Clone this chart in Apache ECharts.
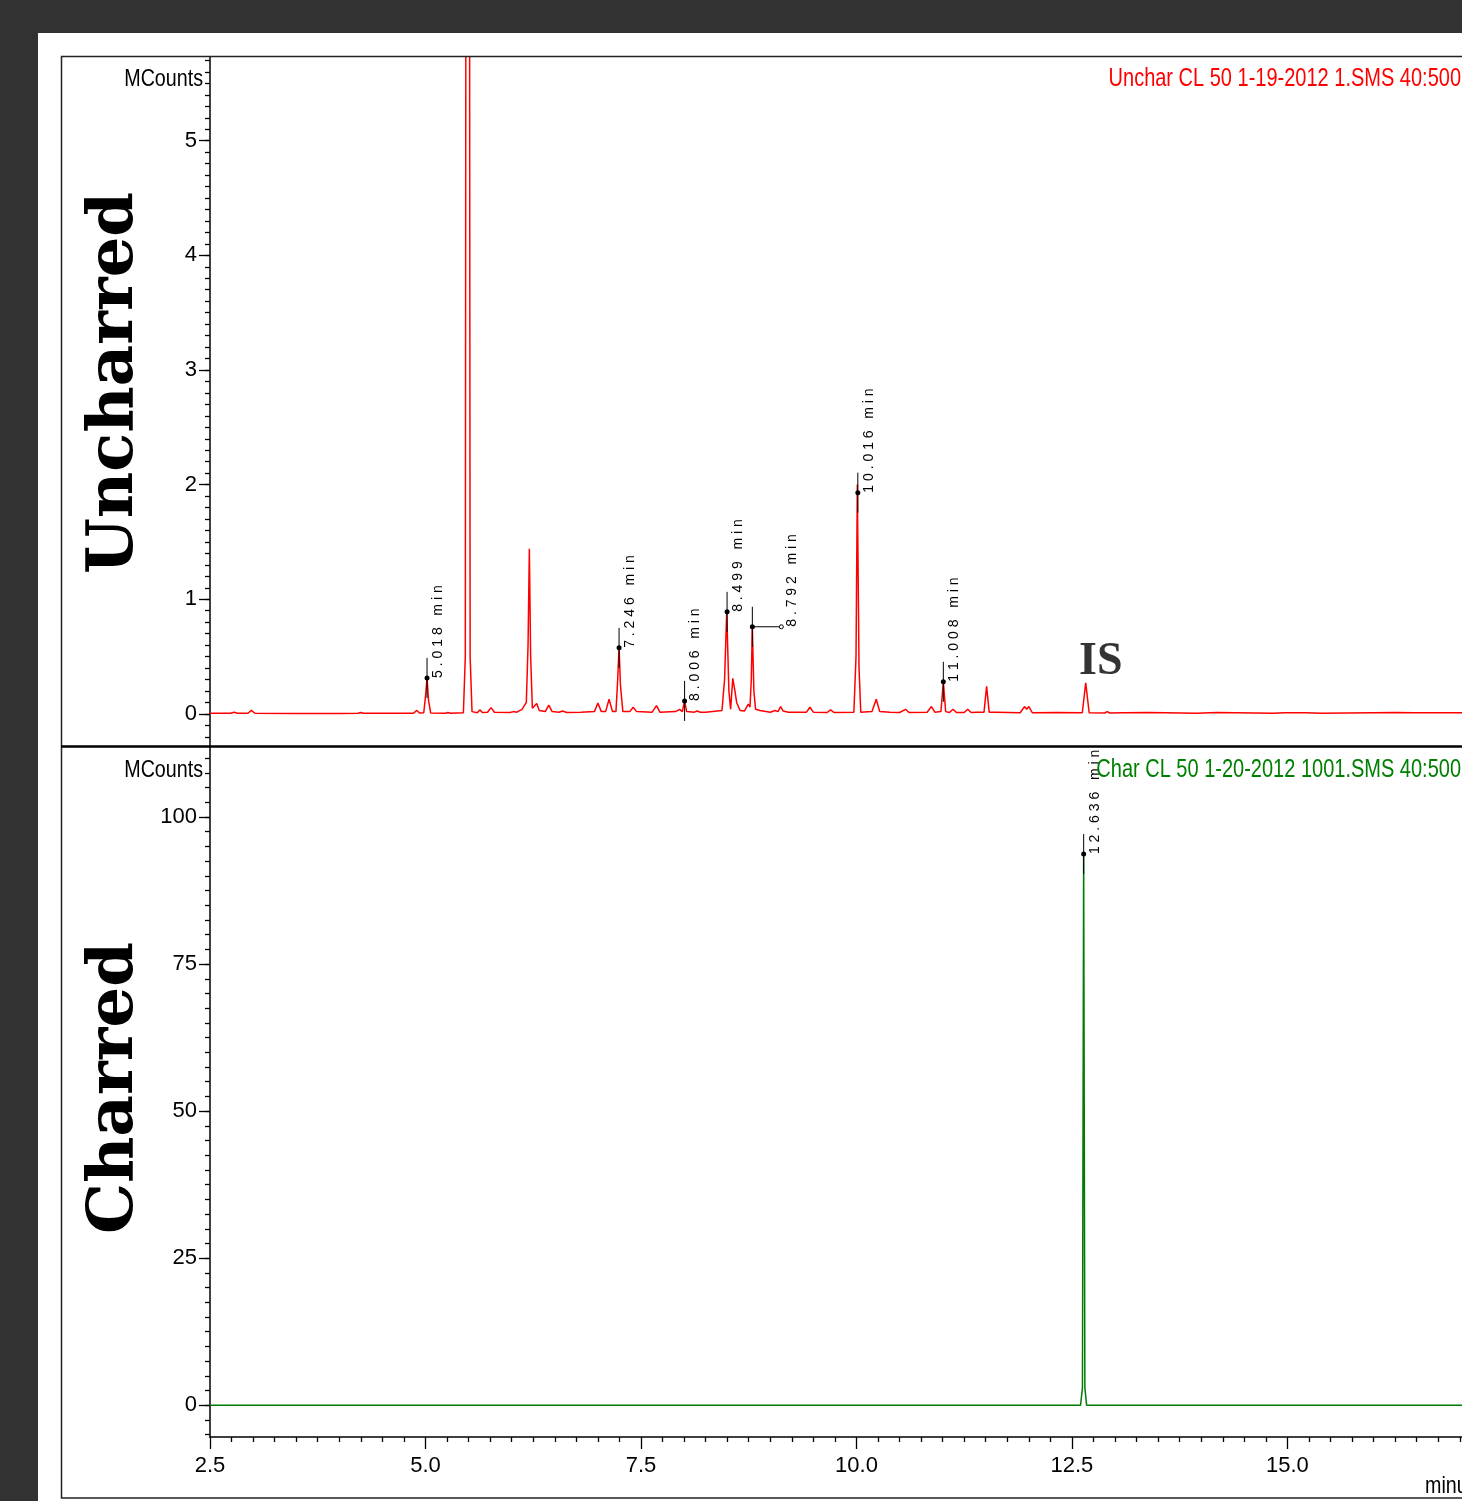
<!DOCTYPE html>
<html>
<head>
<meta charset="utf-8">
<script src="https://cdn.jsdelivr.net/npm/echarts@6/dist/echarts.min.js"></script>
<style>
html,body{margin:0;padding:0;overflow:hidden;background:#323232;}
#chart{position:absolute;left:0;top:0;width:1560px;height:1501px;}
</style>
</head>
<body>
<div id="chart"></div>
<script>
// ---------------- DATA ----------------
// Uncharred chromatogram: [time (min), MCounts]
const uncharTrace = [
  [2.50,0.005],[2.74,0.005],[2.78,0.015],[2.82,0.005],
  [2.94,0.006],[2.98,0.030],[3.02,0.006],[3.50,0.004],[4.00,0.004],
  [4.22,0.005],[4.25,0.012],[4.28,0.005],
  [4.86,0.006],[4.90,0.030],[4.93,0.008],
  [4.98,0.010],[5.00,0.150],[5.018,0.314],[5.035,0.120],[5.06,0.008],
  [5.23,0.006],[5.26,0.012],[5.29,0.006],
  [5.44,0.010],[5.462,0.500],[5.475,12.0],[5.505,12.0],[5.518,0.500],[5.54,0.020],
  [5.60,0.010],[5.63,0.035],[5.66,0.012],
  [5.72,0.015],[5.76,0.055],[5.80,0.015],
  [5.98,0.012],[6.02,0.020],[6.06,0.015],
  [6.12,0.040],[6.17,0.100],[6.19,0.600],[6.205,1.44],[6.22,0.500],[6.24,0.050],[6.26,0.040],
  [6.29,0.090],[6.32,0.030],
  [6.39,0.020],[6.43,0.076],[6.47,0.020],
  [6.55,0.015],[6.59,0.025],[6.64,0.012],
  [6.80,0.015],[6.96,0.020],[7.00,0.095],[7.04,0.020],
  [7.09,0.020],[7.13,0.128],[7.17,0.020],
  [7.21,0.020],[7.23,0.300],[7.246,0.580],[7.262,0.250],[7.29,0.020],
  [7.37,0.020],[7.41,0.058],[7.45,0.020],
  [7.63,0.015],[7.68,0.072],[7.72,0.015],
  [7.90,0.020],[7.95,0.040],[7.98,0.020],[8.006,0.113],[8.03,0.020],
  [8.12,0.015],[8.15,0.025],[8.19,0.015],[8.25,0.015],
  [8.44,0.030],[8.47,0.300],[8.495,0.890],[8.52,0.200],[8.54,0.040],[8.565,0.310],[8.59,0.200],[8.61,0.100],[8.65,0.030],
  [8.70,0.025],[8.745,0.085],[8.765,0.060],[8.78,0.300],[8.792,0.760],[8.81,0.200],[8.83,0.040],[8.88,0.030],
  [9.00,0.015],[9.055,0.030],[9.09,0.020],[9.12,0.064],[9.15,0.025],[9.17,0.040],[9.21,0.015],
  [9.42,0.015],[9.46,0.058],[9.50,0.015],
  [9.66,0.012],[9.70,0.035],[9.74,0.012],
  [9.97,0.015],[9.995,0.500],[10.01,2.00],[10.03,0.400],[10.05,0.015],
  [10.18,0.020],[10.23,0.128],[10.27,0.020],
  [10.39,0.015],[10.50,0.012],[10.57,0.040],[10.61,0.012],
  [10.82,0.015],[10.87,0.064],[10.91,0.015],
  [10.98,0.020],[11.008,0.280],[11.035,0.020],
  [11.08,0.012],[11.12,0.040],[11.16,0.012],
  [11.25,0.012],[11.29,0.040],[11.33,0.012],[11.39,0.015],
  [11.48,0.015],[11.51,0.240],[11.54,0.015],[11.62,0.015],
  [11.90,0.010],[11.95,0.064],[11.975,0.040],[12.00,0.064],[12.04,0.010],
  [12.33,0.012],
  [12.62,0.010],[12.66,0.270],[12.70,0.010],
  [12.88,0.008],[12.91,0.020],[12.94,0.008],[13.10,0.010],[13.40,0.012],[13.95,0.006],[14.18,0.012],
  [14.83,0.006],[14.97,0.010],[15.21,0.010],[15.40,0.006],[16.27,0.013],
  [16.46,0.010],[16.69,0.010],[16.79,0.010],[16.99,0.010],[17.50,0.006],[18.00,0.006]
];
// Charred chromatogram: [time (min), MCounts]
const charTrace = [
  [2.50,0],[12.60,0],[12.622,3],[12.636,93.7],[12.65,3],[12.67,0],[18.00,0]
];
// Labelled peaks (retention time, marker height)
const uncharPeakTimes = [5.018, 7.246, 8.006, 8.499, 8.792, 10.016, 11.008];
const uncharPeakMarks = [0.314, 0.576, 0.113, 0.890, 0.760, 1.930, 0.280];
const charPeakTimes = [12.636];
const charPeakMarks = [93.7];
// Axis ticks
const xMin = 2.5, xMax = 18.0, xStep = 2.5;
const uncharYMajor = [0, 1, 2, 3, 4, 5];
const charYMajor = [0, 25, 50, 75, 100];
const uncharRange = [-0.28, 5.73];
const charRange = [-5.4, 111.9];
const uncharTitle = 'Unchar CL 50 1-19-2012 1.SMS 40:500';
const charTitle = 'Char CL 50 1-20-2012 1001.SMS 40:500';
const isLabel = {time: 12.66, value: 0.27, text: 'IS'};

// ---------------- HELPERS ----------------
function ticksBetween(lo, hi, step) {
  const out = [];
  const start = Math.ceil(lo / step - 1e-9);
  for (let k = start; k * step <= hi + 1e-9; k++) out.push(+(k * step).toFixed(6));
  return out;
}
const uncharYMinor = ticksBetween(uncharRange[0], uncharRange[1], 0.1);
const charYMinor = ticksBetween(charRange[0], charRange[1], 2.5);

const SANS = '"Liberation Sans", Arial, sans-serif';
const LABEL_FONT = 22;

function spaced(t) {
  return (t.toFixed(3) + ' min').split('').join(' ');
}
const LEADER = {'8.792': 29};

function annotRender(times) {
  return function (params, api) {
    const p = api.coord([api.value(0), api.value(1)]);
    const key = times[params.dataIndex].toFixed(3);
    const lead = LEADER[key] || 0;
    const children = [
      {type: 'line', shape: {x1: p[0], y1: p[1] - 20, x2: p[0], y2: p[1] + 20},
       style: {stroke: '#000', lineWidth: 1}},
      {type: 'circle', shape: {cx: p[0], cy: p[1], r: 2.5}, style: {fill: '#000'}}
    ];
    if (lead) {
      children.push({type: 'line', shape: {x1: p[0], y1: p[1], x2: p[0] + lead, y2: p[1]},
        style: {stroke: '#000', lineWidth: 1}});
      children.push({type: 'circle', shape: {cx: p[0] + lead, cy: p[1], r: 2},
        style: {fill: '#fff', stroke: '#000', lineWidth: 1}});
    }
    children.push({type: 'text', x: p[0] + lead + 11, y: p[1], rotation: Math.PI / 2,
      style: {text: spaced(times[params.dataIndex]), fill: '#000',
        font: '14px ' + SANS, align: 'left', verticalAlign: 'middle'}});
    return {type: 'group', children: children};
  };
}

function yAxes(gridIndex, range, major, minor) {
  return [
    {type: 'value', gridIndex: gridIndex, min: range[0], max: range[1], position: 'left',
     axisLine: {show: true, lineStyle: {color: '#000', width: 1.5}},
     axisTick: {show: true, customValues: major, length: 11, lineStyle: {color: '#000', width: 1.3}},
     axisLabel: {show: true, customValues: major, margin: 13, color: '#000',
       fontFamily: SANS, fontSize: LABEL_FONT, formatter: v => String(v)},
     splitLine: {show: false}},
    {type: 'value', gridIndex: gridIndex, min: range[0], max: range[1], position: 'left',
     axisLine: {show: false},
     axisTick: {show: true, customValues: minor, length: 5, lineStyle: {color: '#000', width: 1.3}},
     axisLabel: {show: false}, splitLine: {show: false}}
  ];
}

function narrowText(x, y, text, fill, align, size, sx) {
  return {type: 'text', z: 10, x: x, y: y, scaleX: sx,
    style: {x: 0, y: 0, text: text, fill: fill, font: size + 'px ' + SANS, align: align, verticalAlign: 'middle'}};
}

const chart = echarts.init(document.getElementById('chart'), null, {renderer: 'canvas'});
const plotW = 1336;
const option = {
  animation: false,
  backgroundColor: '#323232',
  grid: [
    {left: 210, top: 57, width: plotW, height: 689, containLabel: false, outerBoundsMode: 'none'},
    {left: 210, top: 747, width: plotW, height: 690, containLabel: false, outerBoundsMode: 'none'}
  ],
  xAxis: [
    {type: 'value', gridIndex: 0, min: xMin, max: xMax, interval: xStep, show: false},
    {type: 'value', gridIndex: 1, min: xMin, max: xMax, interval: xStep, position: 'bottom',
     axisLine: {show: true, onZero: false, lineStyle: {color: '#000', width: 1.5}},
     axisTick: {show: true, length: 12, lineStyle: {color: '#000', width: 1.3}},
     minorTick: {show: true, splitNumber: 10, length: 5, lineStyle: {color: '#000', width: 1.3}},
     axisLabel: {margin: 18, color: '#000', fontFamily: SANS, fontSize: LABEL_FONT,
       formatter: v => v.toFixed(1)},
     splitLine: {show: false}, minorSplitLine: {show: false}}
  ],
  yAxis: yAxes(0, uncharRange, uncharYMajor, uncharYMinor)
    .concat(yAxes(1, charRange, charYMajor, charYMinor)),
  series: [
    {type: 'line', xAxisIndex: 0, yAxisIndex: 0, data: uncharTrace, showSymbol: false,
     lineStyle: {color: '#ff0000', width: 1.5}, clip: true, z: 3},
    {type: 'line', xAxisIndex: 1, yAxisIndex: 2, data: charTrace, showSymbol: false,
     lineStyle: {color: '#007a00', width: 1.5}, clip: true, z: 3},
    {type: 'custom', xAxisIndex: 0, yAxisIndex: 0, z: 5,
     data: uncharPeakTimes.map((t, i) => [t, uncharPeakMarks[i]]),
     renderItem: annotRender(uncharPeakTimes)},
    {type: 'custom', xAxisIndex: 1, yAxisIndex: 2, z: 5,
     data: charPeakTimes.map((t, i) => [t, charPeakMarks[i]]),
     renderItem: annotRender(charPeakTimes)},
    {type: 'scatter', xAxisIndex: 0, yAxisIndex: 0, z: 5, symbolSize: 0,
     data: [[isLabel.time, isLabel.value]],
     label: {show: true, position: 'top', distance: -2, offset: [15, 0], formatter: isLabel.text, color: '#000',
       fontFamily: '"Liberation Serif", "DejaVu Serif", serif', fontWeight: 'bold', fontSize: 46}}
  ],
  graphic: [
    {type: 'rect', z: -10, silent: true, shape: {x: 38, y: 33, width: 1600, height: 1500}, style: {fill: '#ffffff'}},
    {type: 'rect', z: 10, silent: true, shape: {x: 61.5, y: 56.5, width: 1600, height: 1441.5},
     style: {fill: 'none', stroke: '#222', lineWidth: 1.5}},
    {type: 'line', z: 10, silent: true, shape: {x1: 61, y1: 746.5, x2: 1600, y2: 746.5},
     style: {stroke: '#000', lineWidth: 2.5}},
    narrowText(203, 79, 'MCounts', '#000', 'right', 24, 0.82),
    narrowText(203, 770, 'MCounts', '#000', 'right', 24, 0.82),
    narrowText(1461, 79, uncharTitle, '#ff0000', 'right', 25, 0.8),
    narrowText(1461, 770, charTitle, '#008000', 'right', 25, 0.8),
    narrowText(1425, 1486, 'minutes', '#000', 'left', 24, 0.82),
    {type: 'text', z: 10, x: 115, y: 383, rotation: Math.PI / 2,
     style: {text: 'Uncharred', fill: '#000', font: 'bold 64px "DejaVu Serif", serif', align: 'center', verticalAlign: 'middle'}},
    {type: 'text', z: 10, x: 115, y: 1088, rotation: Math.PI / 2,
     style: {text: 'Charred', fill: '#000', font: 'bold 64px "DejaVu Serif", serif', align: 'center', verticalAlign: 'middle'}}
  ]
};
chart.setOption(option);
</script>
</body>
</html>
